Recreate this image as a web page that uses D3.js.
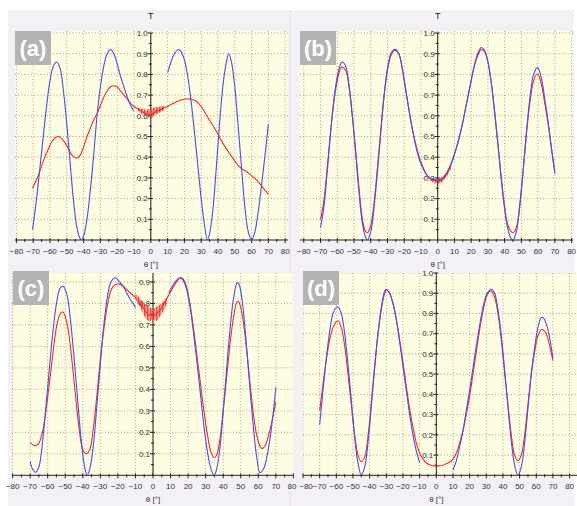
<!DOCTYPE html>
<html><head><meta charset="utf-8">
<script src="https://cdn.jsdelivr.net/npm/d3@7"></script>
<style>html,body{margin:0;padding:0;background:#fff;}svg{display:block;}</style>
</head><body>
<svg id="chart" width="577" height="506"></svg>
<script>
// ---------- data ----------
const xTicks = [-80,-70,-60,-50,-40,-30,-20,-10,0,10,20,30,40,50,60,70,80];
const yTicks = [0.1,0.2,0.3,0.4,0.5,0.6,0.7,0.8,0.9,1.0];
const panelLabels = ["(a)","(b)","(c)","(d)"];

// (a)
const blueA1 = [[-70.4,0.05],[-68,0.2],[-66,0.35],[-64,0.5],[-62,0.65],[-60,0.77],[-58,0.84],[-56,0.86],[-54,0.83],[-52,0.72],[-50,0.56],[-48,0.37],[-46,0.19],[-44,0.06],[-42,0.005],[-41.5,0],[-40,0.02],[-38,0.1],[-36,0.24],[-34,0.41],[-32,0.6],[-30,0.74],[-28,0.84],[-26,0.9],[-24,0.92],[-22,0.9],[-20,0.85],[-18,0.79],[-16,0.74],[-14,0.69],[-12,0.65],[-10.3,0.625]];
const blueA2 = [[10.1,0.81],[12,0.86],[14,0.9],[16.5,0.92],[18,0.91],[20,0.87],[22,0.79],[24,0.67],[26,0.52],[28,0.36],[30,0.2],[32,0.07],[33.7,0],[35,0.03],[37,0.15],[39,0.35],[41,0.57],[43,0.75],[45,0.86],[46.4,0.9],[48,0.86],[50,0.74],[52,0.55],[54,0.35],[56,0.16],[58,0.04],[60,0],[62,0.04],[64,0.14],[66,0.27],[68,0.41],[70,0.56]];
const redA = [[-70.4,0.25],[-67,0.31],[-64,0.38],[-61,0.44],[-58,0.485],[-55,0.5],[-52,0.48],[-49,0.44],[-47,0.41],[-45,0.398],[-44,0.395],[-42,0.41],[-40,0.45],[-38,0.5],[-36,0.54],[-34,0.58],[-32,0.61],[-30,0.65],[-28,0.69],[-26,0.72],[-24,0.74],[-22,0.745],[-20,0.74],[-18,0.72],[-16,0.7],[-14,0.68],[-12,0.66],[-10,0.645],[-8,0.635],[-6,0.625],[-4,0.615],[-2,0.61],[0,0.605],[2,0.615],[4,0.625],[6,0.63],[8,0.64],[10,0.645],[12,0.655],[14,0.663],[16,0.67],[18,0.676],[20,0.68],[22.4,0.682],[25,0.678],[27,0.67],[30,0.645],[33,0.605],[36,0.565],[39,0.525],[42,0.48],[45,0.44],[48,0.405],[51,0.37],[54,0.345],[57,0.33],[60,0.31],[63,0.29],[66,0.26],[70,0.22]];
const noiseA = [[-8,0.628,0.64],[-6,0.612,0.636],[-4,0.603,0.63],[-2,0.597,0.63],[0,0.585,0.635],[2,0.603,0.64],[4,0.61,0.642],[6,0.618,0.645],[8,0.628,0.647]];

// (b)
const blueB = [[-70,0.06],[-68,0.16],[-66,0.33],[-64,0.52],[-62,0.68],[-60,0.79],[-58,0.85],[-57,0.86],[-55,0.84],[-53,0.75],[-51,0.6],[-49,0.42],[-47,0.23],[-45,0.08],[-43,0.01],[-42,0],[-40,0.04],[-38,0.16],[-36,0.33],[-34,0.52],[-32,0.7],[-30,0.83],[-28,0.9],[-26,0.92],[-25,0.92],[-23,0.895],[-21,0.82],[-19,0.72],[-17,0.62],[-15,0.53],[-13,0.45],[-11,0.39],[-9,0.35],[-7,0.32],[-5,0.3],[-3,0.292],[0,0.29],[3,0.3],[5,0.32],[7,0.35],[9,0.39],[11,0.44],[13,0.5],[15,0.57],[17,0.65],[19,0.73],[21,0.81],[23,0.87],[25,0.91],[26,0.92],[28,0.91],[30,0.86],[32,0.76],[34,0.62],[36,0.46],[38,0.29],[40,0.15],[42,0.05],[44,0.005],[45,0],[47,0.04],[49,0.16],[51,0.33],[53,0.52],[55,0.68],[57,0.79],[59,0.83],[60,0.83],[62,0.78],[64,0.68],[66,0.57],[68,0.44],[70,0.32]];
const redB = [[-70,0.1],[-68,0.19],[-66,0.35],[-64,0.52],[-62,0.67],[-60,0.77],[-58,0.83],[-57,0.835],[-55,0.82],[-53,0.74],[-51,0.6],[-49,0.43],[-47,0.25],[-45,0.1],[-43,0.04],[-42,0.035],[-40,0.07],[-38,0.18],[-36,0.35],[-34,0.53],[-32,0.7],[-30,0.82],[-28,0.89],[-26,0.915],[-25,0.915],[-23,0.895],[-21,0.82],[-19,0.72],[-17,0.62],[-15,0.53],[-13,0.46],[-11,0.4],[-9,0.355],[-7,0.32],[-5,0.3],[-3,0.29],[0,0.285],[3,0.295],[5,0.315],[7,0.345],[9,0.39],[11,0.44],[13,0.5],[15,0.57],[17,0.65],[19,0.73],[21,0.81],[23,0.88],[25,0.92],[26,0.93],[28,0.915],[30,0.86],[32,0.76],[34,0.62],[36,0.46],[38,0.3],[40,0.16],[42,0.07],[44,0.04],[45,0.035],[47,0.06],[49,0.17],[51,0.33],[53,0.51],[55,0.66],[57,0.76],[59,0.8],[60,0.8],[62,0.75],[64,0.66],[66,0.56],[68,0.44],[70,0.33]];
const noiseB = [[-6,0.303,0.312],[-4,0.288,0.302],[-2,0.278,0.296],[0,0.272,0.296],[2,0.276,0.302],[4,0.292,0.314],[6,0.314,0.335],[8,0.345,0.362]];

// (c)
const blueC1 = [[-70,0.065],[-69,0.035],[-67,0.014],[-65,0.04],[-63,0.15],[-61,0.32],[-59,0.5],[-57,0.67],[-55,0.8],[-53,0.87],[-51.2,0.88],[-49,0.84],[-47,0.72],[-45,0.55],[-43,0.36],[-41,0.17],[-39,0.04],[-37.5,0],[-36,0.03],[-34,0.14],[-32,0.32],[-30,0.52],[-28,0.7],[-26,0.83],[-24,0.9],[-21.5,0.92],[-19,0.9],[-17,0.88],[-15,0.85],[-13,0.82],[-11,0.795],[-10,0.78]];
const blueC2 = [[9,0.85],[11,0.88],[13,0.905],[15.5,0.92],[17,0.91],[19,0.87],[21,0.79],[23,0.67],[25,0.53],[27,0.38],[29,0.23],[31,0.11],[33,0.03],[34.7,0],[36,0.02],[38,0.12],[40,0.3],[42,0.5],[44,0.69],[46,0.83],[48,0.897],[49,0.89],[51,0.8],[53,0.63],[55,0.43],[57,0.24],[59,0.09],[61,0.012],[63,0.03],[65,0.09],[67,0.19],[68.5,0.29],[70,0.41]];
const redC = [[-70,0.152],[-68,0.14],[-66.5,0.14],[-65,0.15],[-63,0.2],[-61,0.3],[-59,0.43],[-57,0.57],[-55,0.69],[-53,0.75],[-51.5,0.76],[-50,0.74],[-48,0.66],[-46,0.52],[-44,0.36],[-42,0.21],[-40,0.12],[-38,0.1],[-36,0.12],[-34,0.22],[-32,0.37],[-30,0.54],[-28,0.68],[-26,0.79],[-24,0.86],[-22,0.885],[-19,0.89],[-17,0.88],[-15,0.865],[-13,0.85],[-11,0.835],[-9,0.815],[-7,0.795],[-5,0.775],[-3,0.75],[-1,0.745],[1,0.745],[3,0.76],[5,0.78],[7,0.81],[9,0.84],[11,0.87],[13,0.895],[15.5,0.92],[17,0.915],[19,0.88],[21,0.8],[23,0.69],[25,0.56],[27,0.43],[29,0.3],[31,0.19],[33,0.11],[34.7,0.083],[36,0.09],[38,0.16],[40,0.3],[42,0.46],[44,0.62],[46,0.74],[48,0.81],[49,0.805],[51,0.74],[53,0.61],[55,0.45],[57,0.3],[59,0.19],[61,0.135],[62.2,0.124],[64,0.14],[66,0.19],[68,0.26],[70,0.34]];
const noiseC = [[-10,0.825,0.845],[-8,0.79,0.83],[-6,0.76,0.81],[-4,0.73,0.795],[-2,0.715,0.785],[0,0.725,0.775],[2,0.718,0.785],[4,0.74,0.795],[6,0.765,0.81],[8,0.8,0.83]];

// (d)
const blueD1 = [[-70,0.25],[-68,0.42],[-66,0.58],[-64,0.71],[-62,0.8],[-60,0.83],[-59,0.833],[-57,0.8],[-55,0.7],[-53,0.55],[-51,0.37],[-49,0.19],[-47,0.06],[-45,0],[-43,0.04],[-41,0.16],[-39,0.34],[-37,0.53],[-35,0.7],[-33,0.83],[-31,0.91],[-30,0.92],[-28,0.9],[-26,0.85],[-24,0.77],[-22,0.66],[-20,0.54],[-18,0.42],[-16,0.3],[-14,0.2],[-12,0.12],[-10,0.064]];
const blueD2 = [[10,0.026],[12,0.07],[14,0.14],[16,0.22],[18,0.32],[20,0.42],[22,0.53],[24,0.64],[26,0.74],[28,0.83],[30,0.89],[32,0.915],[33,0.92],[35,0.9],[37,0.82],[39,0.69],[41,0.52],[43,0.34],[45,0.17],[47,0.05],[49,0],[51,0.04],[53,0.16],[55,0.33],[57,0.5],[59,0.63],[61,0.73],[63,0.78],[64,0.78],[66,0.75],[68,0.68],[70,0.58]];
const redD = [[-70,0.32],[-68,0.45],[-66,0.57],[-64,0.67],[-62,0.73],[-60,0.76],[-59,0.764],[-57,0.73],[-55,0.64],[-53,0.5],[-51,0.35],[-49,0.2],[-47,0.1],[-45,0.067],[-43,0.09],[-41,0.19],[-39,0.36],[-37,0.54],[-35,0.7],[-33,0.82],[-31,0.9],[-30,0.916],[-28,0.9],[-26,0.85],[-24,0.77],[-22,0.67],[-20,0.56],[-18,0.44],[-16,0.33],[-14,0.24],[-12,0.16],[-10,0.11],[-8,0.08],[-6,0.062],[-4,0.052],[-2,0.047],[0,0.045],[2,0.047],[4,0.05],[6,0.057],[8,0.066],[10,0.08],[12,0.11],[14,0.16],[16,0.22],[18,0.3],[20,0.39],[22,0.5],[24,0.61],[26,0.72],[28,0.81],[30,0.88],[32,0.91],[33,0.91],[35,0.88],[37,0.8],[39,0.67],[41,0.51],[43,0.35],[45,0.2],[47,0.1],[49,0.072],[51,0.1],[53,0.2],[55,0.35],[57,0.5],[59,0.61],[61,0.69],[63,0.72],[64,0.72],[66,0.7],[68,0.64],[70,0.567]];

// ---------- layout ----------
const svg = d3.select("#chart");
const BLUE = "#4b4bf5", RED = "#f52828";
const defs = svg.append("defs");
const pat = defs.append("pattern").attr("id","noisePat").attr("patternUnits","userSpaceOnUse")
  .attr("width",1.5).attr("height",6);
pat.append("rect").attr("width",0.9).attr("height",6).attr("fill",RED);

svg.append("rect").attr("x",8).attr("y",10).attr("width",566).attr("height",496).attr("fill","#f4f1f6");
svg.append("line").attr("x1",290).attr("x2",290).attr("y1",10).attr("y2",506).attr("stroke","#e7e2ea");

const panels = [
  {lab:0, plot:[15,31,288,240], xr:[16.4,285.2], yr:[240,33], showT:true, xtY:251, xlY:264,
   blue:[blueA1,blueA2], red:[redA], noise:noiseA, shiftL:0, shiftR:0},
  {lab:1, plot:[300,31,573,240], xr:[303.8,571.6], yr:[240,33], showT:true, xtY:251, xlY:264,
   blue:[blueB], red:[redB], noise:noiseB, shiftL:0, shiftR:0},
  {lab:2, plot:[12,273,293,475.3], xr:[12.6,293.4], yr:[475.3,260.5], showT:false, xtY:486, xlY:499,
   blue:[blueC1,blueC2], red:[redC], noise:noiseC, shiftL:0, shiftR:-1.5},
  {lab:3, plot:[303,273,577,475.3], xr:[303,569.6], yr:[475.3,273], showT:false, xtY:486, xlY:499,
   blue:[blueD1,blueD2], red:[redD], noise:null, shiftL:3, shiftR:0}
];

const FONT = "'Liberation Sans', Arial, sans-serif";

panels.forEach((p, i) => {
  const g = svg.append("g");
  const [px0, py0, px1, py1] = p.plot;
  const x = d3.scaleLinear().domain([-80, 80]).range(p.xr);
  const y = d3.scaleLinear().domain([0, 1]).range(p.yr);

  g.append("rect").attr("x",px0).attr("y",py0).attr("width",px1-px0).attr("height",py1-py0).attr("fill","#fdfde2");

  const clipId = "clip" + i;
  defs.append("clipPath").attr("id", clipId).append("rect")
    .attr("x",px0).attr("y",py0).attr("width",px1-px0).attr("height",py1-py0);

  // grid
  const grid = g.append("g").attr("clip-path", `url(#${clipId})`)
    .attr("stroke","#9a9a8a").attr("stroke-width",0.9).attr("stroke-dasharray","1,2.2");
  xTicks.forEach(t => grid.append("line").attr("x1",x(t)).attr("x2",x(t)).attr("y1",py0).attr("y2",y(0)));
  yTicks.forEach(t => grid.append("line").attr("x1",px0).attr("x2",px1).attr("y1",y(t)).attr("y2",y(t)));

  // axes
  const ax = g.append("g").attr("stroke","#222").attr("stroke-width",1);
  ax.append("line").attr("x1",px0).attr("x2",px1).attr("y1",y(0)).attr("y2",y(0));
  const yTop = Math.max(y(1), py0);
  ax.append("line").attr("x1",x(0)).attr("x2",x(0)).attr("y1",y(0)).attr("y2",yTop);
  d3.range(-80, 81, 5).forEach(t => {
    const major = t % 10 === 0;
    ax.append("line").attr("x1",x(t)).attr("x2",x(t)).attr("y1",y(0)-(major?2:1)).attr("y2",y(0)+(major?3:2));
  });
  d3.range(0.05, 1.001, 0.05).forEach(t => {
    if (y(t) < py0 - 0.5) return;
    const major = Math.round(t*100) % 10 === 0;
    ax.append("line").attr("x1",x(0)-(major?3:2)).attr("x2",x(0)+(major?2:1)).attr("y1",y(t)).attr("y2",y(t));
  });

  // tick labels
  const tl = g.append("g").attr("font-family",FONT).attr("font-size","8px").attr("fill","#333");
  xTicks.forEach(t => {
    const sh = t === -80 ? p.shiftL : (t === 80 ? p.shiftR : 0);
    tl.append("text").attr("x",x(t)+sh).attr("y",p.xtY).attr("text-anchor","middle")
      .attr("dy","0.35em").text(t < 0 ? "\u2212" + Math.abs(t) : String(t));
  });
  yTicks.forEach(t => {
    if (y(t) < py0 - 1) return;
    tl.append("text").attr("x",x(0)-3).attr("y",y(t)).attr("text-anchor","end").attr("dy","0.35em").text(t.toFixed(1));
  });
  if (p.showT) g.append("text").attr("x",x(0)).attr("y",19).attr("text-anchor","middle")
     .attr("font-family",FONT).attr("font-size","9px").attr("fill","#222").text("T");
  g.append("text").attr("x",x(0)).attr("y",p.xlY).attr("text-anchor","middle").attr("dy","0.35em")
     .attr("font-family",FONT).attr("font-size","8px").attr("fill","#333").text("\u03b8 [\u00b0]");

  // curves
  const cg = g.append("g").attr("clip-path", `url(#${clipId})`);
  const line = d3.line().x(d => x(d[0])).y(d => y(d[1])).curve(d3.curveCatmullRom.alpha(0.5));
  p.red.forEach(s => cg.append("path").attr("d", line(s)).attr("fill","none").attr("stroke",RED).attr("stroke-width",1.1));
  if (p.noise) {
    const area = d3.area().x(d => x(d[0])).y0(d => y(d[1])).y1(d => y(d[2])).curve(d3.curveCatmullRom.alpha(0.5));
    cg.append("path").attr("d", area(p.noise)).attr("fill","url(#noisePat)");
  }
  p.blue.forEach(s => cg.append("path").attr("d", line(s)).attr("fill","none").attr("stroke",BLUE).attr("stroke-width",1.1));

  // panel label
  const bx = px0 + (i===2 ? 1 : 0), by = py0 + (i>=2 ? -2 : 0);
  g.append("rect").attr("x",bx).attr("y",by).attr("width",36).attr("height",34).attr("fill","#b4b4b4");
  g.append("text").attr("x",bx+18).attr("y",by+17).attr("dy","0.36em").attr("text-anchor","middle")
    .attr("font-family",FONT).attr("font-weight","bold").attr("font-size","22px").attr("fill","#fff")
    .text(panelLabels[p.lab]);
});
</script>
</body></html>
